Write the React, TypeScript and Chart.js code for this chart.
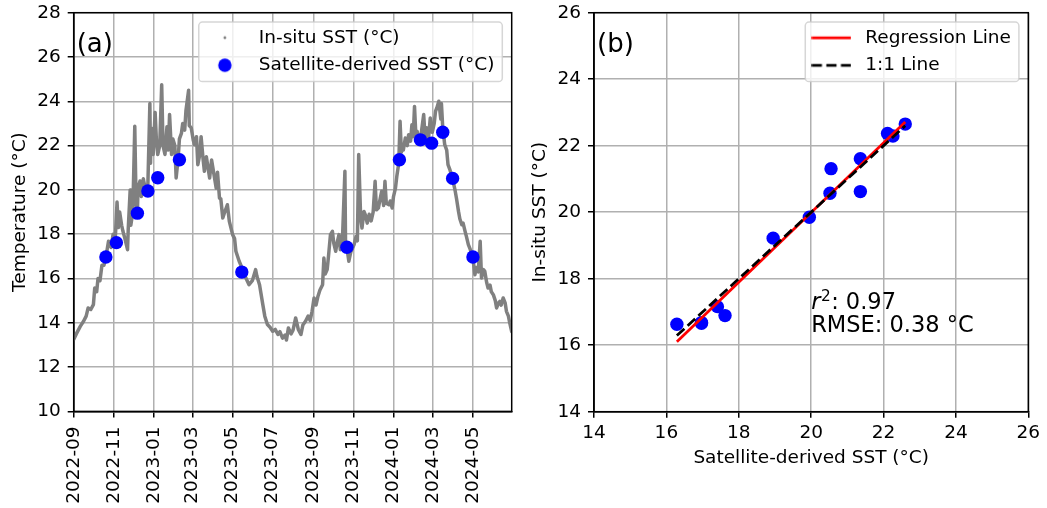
import React, { useEffect, useRef } from 'react';
import { Chart, registerables } from 'chart.js';

Chart.register(...registerables);

const FONT = '"DejaVu Sans", "Liberation Sans", sans-serif';
const FS = 18.5;
const GRAY = '#808080';
const BLUE = '#0000ff';
const RED = '#ff0000';

// ---------------- data ----------------
const insituDates = [
  '2022-09-01','2022-09-05','2022-09-11','2022-09-16','2022-09-20','2022-09-23','2022-09-27','2022-10-01','2022-10-03','2022-10-06',
  '2022-10-08','2022-10-11','2022-10-14','2022-10-17','2022-10-20','2022-10-24','2022-10-28','2022-10-31','2022-11-03','2022-11-06',
  '2022-11-08','2022-11-10','2022-11-13','2022-11-15','2022-11-18','2022-11-22','2022-11-23','2022-11-26','2022-11-27','2022-11-30',
  '2022-12-03','2022-12-05','2022-12-07','2022-12-08','2022-12-11','2022-12-13','2022-12-16','2022-12-20','2022-12-23','2022-12-26',
  '2022-12-27','2022-12-28','2022-12-31','2023-01-03','2023-01-05','2023-01-07','2023-01-10','2023-01-13','2023-01-15','2023-01-18',
  '2023-01-21','2023-01-23','2023-01-25','2023-01-28','2023-01-30','2023-02-02','2023-02-04','2023-02-07','2023-02-09','2023-02-12',
  '2023-02-14','2023-02-17','2023-02-19','2023-02-23','2023-02-24','2023-02-27','2023-03-02','2023-03-04','2023-03-07','2023-03-09',
  '2023-03-12','2023-03-14','2023-03-17','2023-03-19','2023-03-22','2023-03-27','2023-03-30','2023-04-01','2023-04-06','2023-04-08',
  '2023-04-11','2023-04-13','2023-04-16','2023-04-19','2023-04-23','2023-04-26','2023-05-01','2023-05-04','2023-05-06','2023-05-11',
  '2023-05-15','2023-05-20','2023-05-26','2023-05-31','2023-06-05','2023-06-07','2023-06-11','2023-06-16','2023-06-19','2023-06-23',
  '2023-06-27','2023-07-01','2023-07-05','2023-07-09','2023-07-12','2023-07-16','2023-07-20','2023-07-22','2023-07-25','2023-07-29',
  '2023-08-01','2023-08-05','2023-08-09','2023-08-13','2023-08-16','2023-08-20','2023-08-24','2023-08-27','2023-08-30','2023-09-02',
  '2023-09-05','2023-09-08','2023-09-11','2023-09-15','2023-09-17','2023-09-19','2023-09-22','2023-09-24','2023-09-27','2023-09-30',
  '2023-10-02','2023-10-05','2023-10-07','2023-10-10','2023-10-12','2023-10-15','2023-10-19','2023-10-20','2023-10-22','2023-10-25',
  '2023-10-28','2023-11-02','2023-11-05','2023-11-07','2023-11-09','2023-11-12','2023-11-14','2023-11-17','2023-11-19','2023-11-22',
  '2023-11-25','2023-11-28','2023-12-01','2023-12-04','2023-12-06','2023-12-09','2023-12-11','2023-12-14','2023-12-17','2023-12-19',
  '2023-12-21','2023-12-25','2023-12-27','2023-12-30','2024-01-01','2024-01-04','2024-01-06','2024-01-09','2024-01-11','2024-01-13',
  '2024-01-14','2024-01-16','2024-01-19','2024-01-22','2024-01-24','2024-01-27','2024-01-29','2024-01-31','2024-02-02','2024-02-04',
  '2024-02-06','2024-02-09','2024-02-12','2024-02-16','2024-02-18','2024-02-21','2024-02-23','2024-02-26','2024-02-29','2024-03-03',
  '2024-03-05','2024-03-07','2024-03-10','2024-03-13','2024-03-14','2024-03-16','2024-03-19','2024-03-22','2024-03-24','2024-03-27',
  '2024-03-31','2024-04-04','2024-04-06','2024-04-09','2024-04-11','2024-04-14','2024-04-16','2024-04-19','2024-04-21','2024-04-24',
  '2024-04-27','2024-05-01','2024-05-04','2024-05-06','2024-05-09','2024-05-12','2024-05-14','2024-05-17','2024-05-19','2024-05-22',
  '2024-05-24','2024-05-27','2024-05-29','2024-06-01','2024-06-04','2024-06-06','2024-06-09','2024-06-11','2024-06-13','2024-06-16',
  '2024-06-19','2024-06-21','2024-06-24','2024-06-26','2024-06-29',
];
const insituSST = [
  13.25, 13.5, 13.84, 14.07, 14.3, 14.67, 14.6, 14.82, 15.57, 15.4,
  16.0, 15.9, 16.6, 16.6, 16.96, 17.68, 17.4, 18.0, 17.6, 19.45,
  18.3, 19.0, 18.4, 18.13, 17.8, 17.3, 18.2, 20.0, 18.4, 19.0,
  22.87, 19.4, 19.0, 20.1, 20.4, 19.7, 20.5, 19.9, 20.3, 23.9,
  21.2, 22.8, 21.6, 23.5, 22.2, 21.6, 22.0, 24.75, 22.0, 21.6,
  22.85, 21.8, 23.4, 21.6, 22.3, 22.0, 20.54, 21.4, 22.3, 22.55,
  23.0, 22.7, 23.6, 24.5, 22.9, 22.8, 22.25, 22.04, 22.4, 21.14,
  21.6, 22.4, 21.4, 20.84, 21.5, 20.54, 21.35, 20.99, 20.08, 20.8,
  19.63, 19.6, 18.73, 19.0, 19.33, 18.58, 17.98, 17.8, 17.23, 16.78,
  16.5, 16.1, 15.72, 15.9, 16.4, 16.1, 15.72, 14.82, 14.3, 13.92,
  13.8, 13.62, 13.7, 13.47, 13.6, 13.31, 13.45, 13.22, 13.77, 13.5,
  13.67, 14.22, 13.7, 13.47, 13.9, 14.07, 14.3, 14.1, 14.52, 15.12,
  14.8, 15.2, 15.48, 15.72, 16.92, 16.2, 16.4, 17.0, 17.98, 18.13,
  17.6, 17.23, 17.6, 17.98, 17.3, 17.53, 20.84, 17.5, 17.4, 16.78,
  17.2, 17.53, 17.9, 17.7, 21.6, 18.73, 18.28, 19.03, 18.88, 18.5,
  18.9, 18.6, 19.0, 20.39, 19.1, 19.18, 19.5, 19.94, 19.3, 20.39,
  19.4, 19.33, 19.5, 19.18, 19.7, 20.08, 20.6, 21.2, 23.1, 21.7,
  21.89, 21.8, 22.34, 22.0, 22.49, 22.2, 22.94, 22.4, 23.77, 22.5,
  22.64, 22.2, 22.5, 23.4, 22.4, 22.8, 22.2, 23.25, 22.6, 23.0,
  23.55, 23.7, 24.0, 23.2, 23.9, 22.8, 22.04, 21.8, 21.14, 20.9,
  20.5, 19.94, 19.6, 19.03, 18.7, 18.43, 18.5, 18.13, 17.9, 17.53,
  17.3, 16.9, 16.17, 16.5, 16.3, 17.68, 16.02, 16.4, 16.32, 15.8,
  15.57, 15.7, 15.4, 15.27, 15.0, 14.67, 14.9, 14.97, 14.8, 15.12,
  14.9, 14.52, 14.3, 14.0, 13.6,
];

const satDates = [
  '2022-10-20','2022-11-05','2022-12-07','2022-12-23','2023-01-07','2023-02-09','2023-05-15',
  '2023-10-22','2024-01-10','2024-02-11','2024-02-28','2024-03-16','2024-03-31','2024-05-01',
];
const satSST = [16.97, 17.62, 18.95, 19.95, 20.55, 21.36, 16.29, 17.41, 21.36, 22.26, 22.11, 22.6, 20.52, 16.97];
const insituAtSat = [16.68, 16.89, 19.22, 19.85, 21.31, 21.61, 16.63, 17.16, 20.62, 22.29, 22.37, 22.65, 20.57, 16.66];

const timeTickLabels = ['2022-09','2022-11','2023-01','2023-03','2023-05','2023-07','2023-09','2023-11','2024-01','2024-03','2024-05'];
const tempAxis = { min: 10, max: 28, step: 2 };
const scatterAxis = { min: 14, max: 26, step: 2 };
const statR2 = '0.97';
const statRMSE = '0.38 °C';

// ---------------- helpers ----------------
const BASE = insituDates[0];
function dayOf(s: string) {
  const p = s.split('-').map(Number);
  const b = BASE.split('-').map(Number);
  return (Date.UTC(p[0], p[1] - 1, p[2] || 1) - Date.UTC(b[0], b[1] - 1, b[2])) / 86400000;
}

function makeHandle(draw: (g: CanvasRenderingContext2D) => void) {
  const c = document.createElement('canvas');
  c.width = 40;
  c.height = 20;
  const g = c.getContext('2d')!;
  draw(g);
  return c;
}

function roundRect(ctx: CanvasRenderingContext2D, x: number, y: number, w: number, h: number, r: number) {
  ctx.beginPath();
  ctx.moveTo(x + r, y);
  ctx.lineTo(x + w - r, y);
  ctx.arcTo(x + w, y, x + w, y + r, r);
  ctx.lineTo(x + w, y + h - r);
  ctx.arcTo(x + w, y + h, x + w - r, y + h, r);
  ctx.lineTo(x + r, y + h);
  ctx.arcTo(x, y + h, x, y + h - r, r);
  ctx.lineTo(x, y + r);
  ctx.arcTo(x, y, x + r, y, r);
  ctx.closePath();
}

// matplotlib-like legend frame, placed at upper right of the plot area
const legendFramePlugin = {
  id: 'legendFrame',
  afterInit(chart: any) {
    const lg = chart.legend;
    if (!lg) return;
    lg._layers = () => [{
      z: 5,
      draw: (ca: any) => {
        const b = chart.$lgBox;
        if (b) {
          const ctx = chart.ctx;
          ctx.save();
          roundRect(ctx, b.left, b.top, b.w, b.h, 3.7);
          ctx.fillStyle = 'rgba(255,255,255,0.8)';
          ctx.fill();
          ctx.lineWidth = 1.5;
          ctx.strokeStyle = 'rgba(204,204,204,0.8)';
          ctx.stroke();
          ctx.restore();
        }
        lg.draw(ca);
      },
    }];
  },
  afterLayout(chart: any) {
    const lg = chart.legend;
    if (!lg || !lg.legendItems) return;
    const ctx = chart.ctx;
    ctx.save();
    ctx.font = `${FS}px ${FONT}`;
    const tw = Math.max(...lg.legendItems.map((it: any) => ctx.measureText(it.text).width));
    ctx.restore();
    const a = chart.chartArea;
    const w = tw + 68;
    const right = a.right - 9.4;
    const top = a.top + 9.4;
    const left = right - w;
    chart.$lgBox = { left, top, w, h: 59.5 };
    lg.left = left - 7.6;
    lg.top = top - 2.6;
    lg.right = right;
    lg.bottom = top + 200;
    lg.width = lg.right - lg.left;
    lg.height = lg.bottom - lg.top;
  },
};

const framePlugin = {
  id: 'frame',
  afterDatasetsDraw(chart: any) {
    const { ctx, chartArea: a } = chart;
    ctx.save();
    ctx.strokeStyle = '#000';
    ctx.lineWidth = 1.5;
    ctx.strokeRect(a.left, a.top, a.right - a.left, a.bottom - a.top);
    ctx.restore();
  },
};

function panelLabel(text: string) {
  return {
    id: 'panelLabel',
    afterDatasetsDraw(chart: any) {
      const { ctx, chartArea: a } = chart;
      ctx.save();
      ctx.fillStyle = '#000';
      ctx.font = `26px ${FONT}`;
      ctx.textBaseline = 'alphabetic';
      ctx.textAlign = 'left';
      ctx.fillText(text, a.left + 3, a.top + 38.8);
      ctx.restore();
    },
  };
}

const statsPlugin = {
  id: 'stats',
  afterDatasetsDraw(chart: any) {
    const { ctx } = chart;
    const xs = chart.scales.x;
    const ys = chart.scales.y;
    const x0 = xs.getPixelForValue(20);
    const base2 = ys.getPixelForValue(16.4);
    const base1 = base2 - 23;
    const fs = 22.5;
    ctx.save();
    ctx.fillStyle = '#000';
    ctx.textBaseline = 'alphabetic';
    ctx.textAlign = 'left';
    ctx.font = `italic ${fs}px ${FONT}`;
    ctx.fillText('r', x0, base1);
    let x = x0 + ctx.measureText('r').width + 0.5;
    ctx.font = `${fs * 0.68}px ${FONT}`;
    ctx.fillText('2', x, base1 - 8.3);
    x += ctx.measureText('2').width + 0.5;
    ctx.font = `${fs}px ${FONT}`;
    ctx.fillText(': ' + statR2, x, base1);
    ctx.fillText('RMSE: ' + statRMSE, x0, base2);
    ctx.restore();
  },
};

const axisFont = { family: FONT, size: FS };

function gridOpts() {
  return { color: '#b0b0b0', lineWidth: 1.5, tickColor: '#000', tickWidth: 1.5, tickLength: 6, drawTicks: true };
}

export default function App() {
  const leftRef = useRef<HTMLCanvasElement>(null);
  const rightRef = useRef<HTMLCanvasElement>(null);

  useEffect(() => {
    // legend handles
    const dotImg = makeHandle((g) => { g.fillStyle = GRAY; g.beginPath(); g.arc(20, 10, 1.4, 0, Math.PI * 2); g.fill(); });
    const blueImg = makeHandle((g) => { g.fillStyle = BLUE; g.beginPath(); g.arc(20, 10, 6.7, 0, Math.PI * 2); g.fill(); });
    const redImg = makeHandle((g) => { g.strokeStyle = RED; g.lineWidth = 2.75; g.beginPath(); g.moveTo(0.3, 10); g.lineTo(39.7, 10); g.stroke(); });
    const dashImg = makeHandle((g) => { g.strokeStyle = '#000'; g.lineWidth = 2.75; g.setLineDash([10.2, 4.4]); g.beginPath(); g.moveTo(0.3, 10); g.lineTo(39.7, 10); g.stroke(); });

    const insituPts = insituDates.map((d, i) => ({ x: dayOf(d), y: insituSST[i] }));
    const satPts = satDates.map((d, i) => ({ x: dayOf(d), y: satSST[i] }));
    const xMin = dayOf(insituDates[0]);
    const xMax = dayOf(insituDates[insituDates.length - 1]);
    const tickDays = timeTickLabels.map((l) => dayOf(l + '-01'));

    const legendBase = (items: any[]) => ({
      position: 'chartArea',
      align: 'start',
      labels: {
        usePointStyle: true,
        pointStyleWidth: 49.4,
        padding: 9,
        color: '#000',
        font: axisFont,
        generateLabels: () => items,
      },
    });

    const left = new Chart(leftRef.current!, {
      type: 'scatter',
      data: {
        datasets: [
          {
            label: 'Satellite-derived SST (°C)',
            data: satPts,
            backgroundColor: BLUE,
            borderWidth: 0,
            pointRadius: 6.7,
            order: 1,
          },
          {
            label: 'In-situ SST (°C)',
            data: insituPts,
            showLine: true,
            borderColor: GRAY,
            backgroundColor: GRAY,
            borderWidth: 3.5,
            pointRadius: 0,
            borderJoinStyle: 'round',
            borderCapStyle: 'round',
            order: 2,
          },
        ],
      },
      options: {
        responsive: false,
        animation: false,
        events: [],
        layout: { padding: { left: 0, top: 12.7, right: 8.3, bottom: 0 } },
        scales: {
          x: {
            type: 'linear',
            min: xMin,
            max: xMax,
            bounds: 'data',
            grid: gridOpts(),
            border: { display: true, color: '#000', width: 1.5 },
            afterBuildTicks: (s: any) => { s.ticks = tickDays.map((v) => ({ value: v })); },
            afterFit: (s: any) => { s.height = 508 - 411.4; s.paddingLeft = 0; s.paddingRight = 0; },
            ticks: {
              autoSkip: false,
              minRotation: 90,
              maxRotation: 90,
              padding: 9,
              color: '#000',
              font: axisFont,
              callback: (_v: any, i: number) => timeTickLabels[i],
            },
          },
          y: {
            type: 'linear',
            min: tempAxis.min,
            max: tempAxis.max,
            grid: gridOpts(),
            border: { display: true, color: '#000', width: 1.5 },
            afterFit: (s: any) => { s.width = 73.7; s.paddingTop = 0; s.paddingBottom = 0; },
            ticks: { stepSize: tempAxis.step, padding: 7, color: '#000', font: axisFont },
            title: { display: true, text: 'Temperature (°C)', color: '#000', font: axisFont, padding: { top: 9.5, bottom: 0 } },
          },
        },
        plugins: {
          tooltip: { enabled: false },
          legend: legendBase([
            { text: 'In-situ SST (°C)', pointStyle: dotImg, fillStyle: GRAY, strokeStyle: GRAY, lineWidth: 0, fontColor: '#000', hidden: false, datasetIndex: 1 },
            { text: 'Satellite-derived SST (°C)', pointStyle: blueImg, fillStyle: BLUE, strokeStyle: BLUE, lineWidth: 0, fontColor: '#000', hidden: false, datasetIndex: 0 },
          ]),
        },
      } as any,
      plugins: [framePlugin, legendFramePlugin, panelLabel('(a)')],
    } as any);

    // regression from the matchups
    const n = satSST.length;
    const mx = satSST.reduce((a, b) => a + b, 0) / n;
    const my = insituAtSat.reduce((a, b) => a + b, 0) / n;
    let sxy = 0;
    let sxx = 0;
    for (let i = 0; i < n; i++) {
      sxy += (satSST[i] - mx) * (insituAtSat[i] - my);
      sxx += (satSST[i] - mx) ** 2;
    }
    const slope = sxy / sxx;
    const icpt = my - slope * mx;
    const lo = Math.min(...satSST);
    const hi = Math.max(...satSST);

    const right = new Chart(rightRef.current!, {
      type: 'scatter',
      data: {
        datasets: [
          {
            label: '1:1 Line',
            data: [{ x: lo, y: lo }, { x: hi, y: hi }],
            showLine: true,
            borderColor: '#000',
            borderWidth: 2.75,
            borderDash: [10.2, 4.4],
            pointRadius: 0,
            order: 1,
          },
          {
            label: 'Regression Line',
            data: [{ x: lo, y: icpt + slope * lo }, { x: hi, y: icpt + slope * hi }],
            showLine: true,
            borderColor: RED,
            borderWidth: 2.75,
            pointRadius: 0,
            order: 2,
          },
          {
            label: 'Matchups',
            data: satSST.map((x, i) => ({ x, y: insituAtSat[i] })),
            backgroundColor: BLUE,
            borderWidth: 0,
            pointRadius: 6.7,
            order: 3,
          },
        ],
      },
      options: {
        responsive: false,
        animation: false,
        events: [],
        layout: { padding: { left: 0, top: 12.7, right: 18.7, bottom: 0 } },
        scales: {
          x: {
            type: 'linear',
            min: scatterAxis.min,
            max: scatterAxis.max,
            grid: gridOpts(),
            border: { display: true, color: '#000', width: 1.5 },
            afterFit: (s: any) => { s.height = 508 - 411.7; s.paddingLeft = 0; s.paddingRight = 0; },
            ticks: { stepSize: scatterAxis.step, padding: 4, maxRotation: 0, color: '#000', font: axisFont },
            title: { display: true, text: 'Satellite-derived SST (°C)', color: '#000', font: axisFont, padding: { top: 0, bottom: 38.5 } },
          },
          y: {
            type: 'linear',
            min: scatterAxis.min,
            max: scatterAxis.max,
            grid: gridOpts(),
            border: { display: true, color: '#000', width: 1.5 },
            afterFit: (s: any) => { s.width = 74; s.paddingTop = 0; s.paddingBottom = 0; },
            ticks: { stepSize: scatterAxis.step, padding: 7, color: '#000', font: axisFont },
            title: { display: true, text: 'In-situ SST (°C)', color: '#000', font: axisFont, padding: { top: 9.5, bottom: 0 } },
          },
        },
        plugins: {
          tooltip: { enabled: false },
          legend: legendBase([
            { text: 'Regression Line', pointStyle: redImg, fillStyle: RED, strokeStyle: RED, lineWidth: 0, fontColor: '#000', hidden: false, datasetIndex: 1 },
            { text: '1:1 Line', pointStyle: dashImg, fillStyle: '#000', strokeStyle: '#000', lineWidth: 0, fontColor: '#000', hidden: false, datasetIndex: 0 },
          ]),
        },
      } as any,
      plugins: [framePlugin, legendFramePlugin, panelLabel('(b)'), statsPlugin],
    } as any);

    return () => {
      left.destroy();
      right.destroy();
    };
  }, []);

  return (
    <div style={{ position: 'fixed', left: 0, top: 0, width: 1047, height: 508, background: '#fff' }}>
      <canvas ref={leftRef} width={520} height={508} style={{ position: 'absolute', left: 0, top: 0 }} />
      <canvas ref={rightRef} width={527} height={508} style={{ position: 'absolute', left: 520, top: 0 }} />
    </div>
  );
}
